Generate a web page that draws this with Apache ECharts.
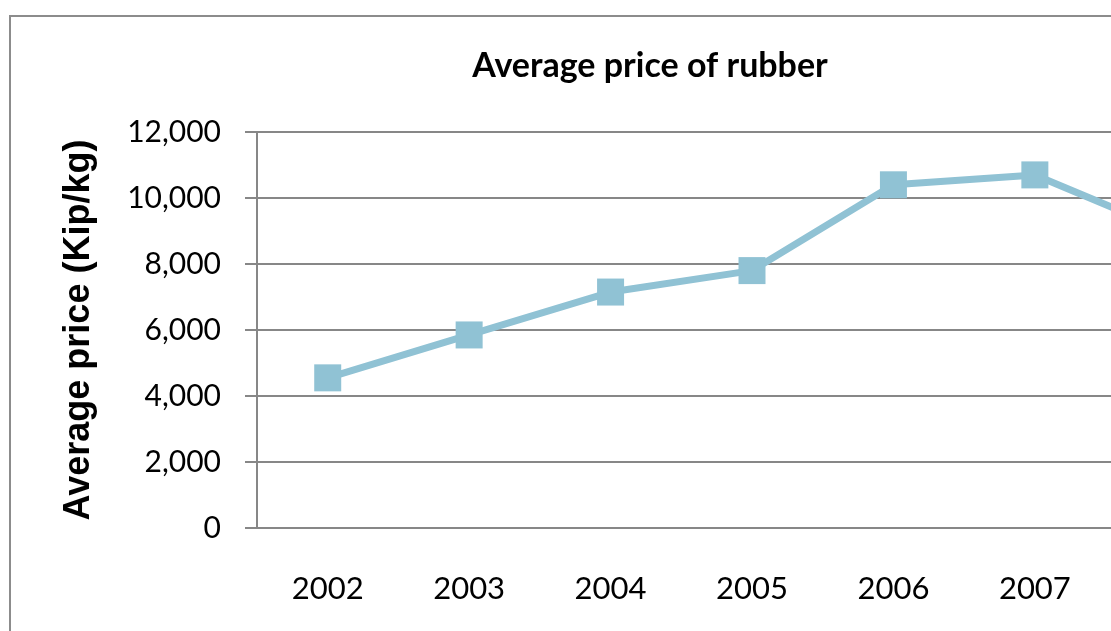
<!DOCTYPE html>
<html>
<head>
<meta charset="utf-8">
<script src="https://cdn.jsdelivr.net/npm/echarts@6/dist/echarts.min.js"></script>
<style>
  html, body { margin: 0; padding: 0; background: #fff; }
  #chart { width: 1111px; height: 631px; }
</style>
</head>
<body>
<div id="chart"></div>
<script>
// data (the 2008 point sits past the right edge)
var years = ['2002', '2003', '2004', '2005', '2006', '2007', '2008'];
var avgPrice = [4550, 5850, 7150, 7800, 10400, 10700, 8900];
var yTicks = [0, 2000, 4000, 6000, 8000, 10000, 12000];

var lineColor = '#90C2D4';
var gridGray = '#878787';

var chart = echarts.init(document.getElementById('chart'));
chart.setOption({
  animation: false,
  title: {
    text: 'Average price of rubber',
    left: 645,
    top: 44,
    textAlign: 'center',
    textStyle: {
      fontFamily: 'Lato',
      fontWeight: 'bold',
      fontSize: 34,
      color: '#000'
    }
  },
  graphic: [{
    type: 'rect',
    shape: { x: 10, y: 16, width: 1300, height: 800 },
    style: { fill: 'none', stroke: '#8c8c8c', lineWidth: 2 },
    silent: true
  }],
  grid: {
    left: 257,
    top: 132,
    width: 990,
    height: 396,
    outerBoundsMode: 'none'
  },
  xAxis: {
    type: 'category',
    data: years,
    boundaryGap: true,
    axisLine: { lineStyle: { color: gridGray, width: 2 } },
    axisTick: { show: false },
    axisLabel: {
      margin: 45,
      fontFamily: 'Lato',
      fontSize: 31,
      color: '#000'
    }
  },
  yAxis: {
    type: 'value',
    min: yTicks[0],
    max: yTicks[yTicks.length - 1],
    interval: 2000,
    name: 'Average price (Kip/kg)',
    nameLocation: 'middle',
    nameRotate: 90,
    nameGap: 160,
    nameTextStyle: {
      fontFamily: 'Liberation Sans',
      fontWeight: 'bold',
      fontSize: 36,
      color: '#000'
    },
    axisLine: { show: true, lineStyle: { color: gridGray, width: 2 } },
    axisTick: { show: true, inside: false, length: 12, lineStyle: { color: gridGray, width: 2 } },
    splitLine: { show: true, lineStyle: { color: gridGray, width: 2 } },
    axisLabel: {
      margin: 36,
      fontFamily: 'Lato',
      fontSize: 30,
      color: '#000',
      formatter: function (v) { return v.toLocaleString('en-US'); }
    }
  },
  series: [{
    type: 'line',
    data: avgPrice,
    symbol: 'rect',
    symbolSize: 27,
    showAllSymbol: true,
    lineStyle: { color: lineColor, width: 7 },
    itemStyle: { color: lineColor, borderWidth: 0 },
    emphasis: { disabled: true }
  }]
});
</script>
</body>
</html>
